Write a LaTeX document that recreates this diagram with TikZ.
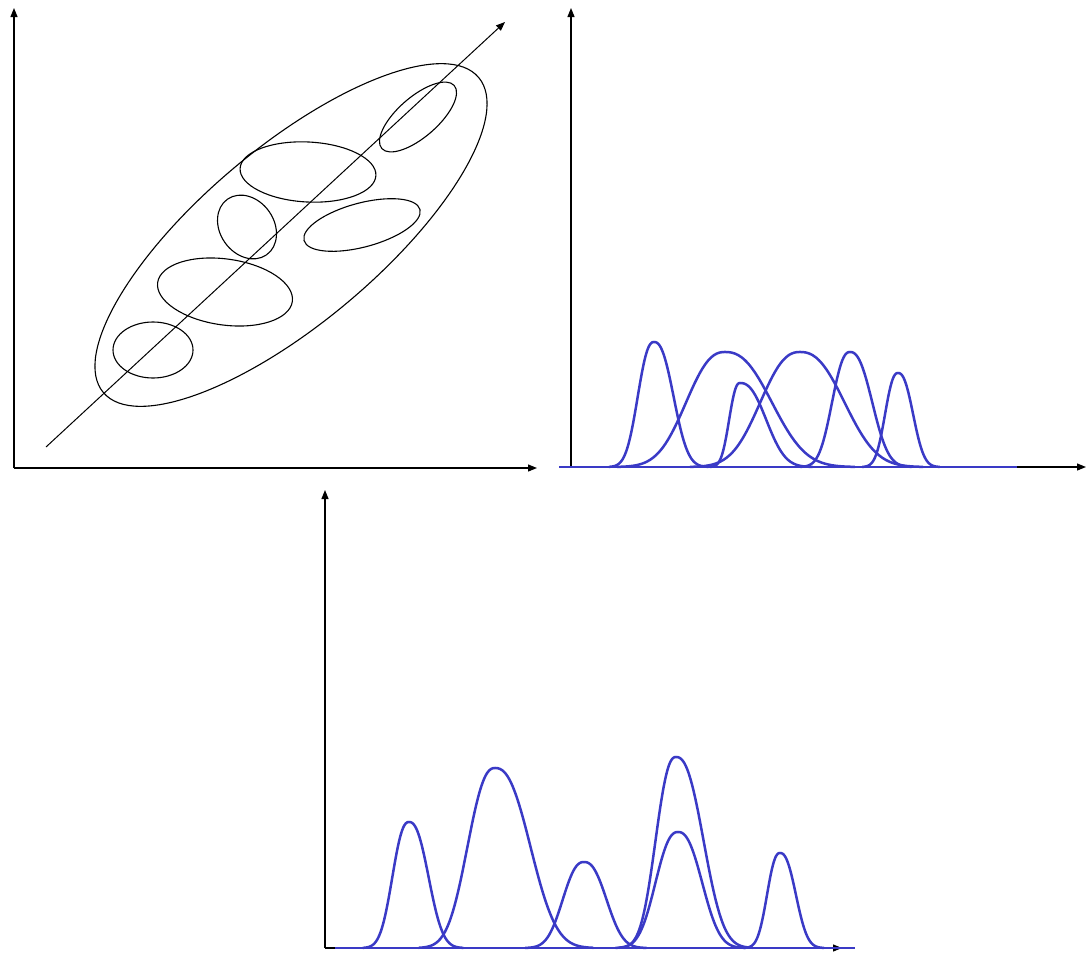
\documentclass[tikz,border=0pt]{standalone}
\usepackage{tikz}
\usetikzlibrary{arrows.meta}
\definecolor{peakblue}{RGB}{58,58,198}
\tikzset{
  axis/.style={line width=1.2pt, -{Triangle[length=9pt,width=7pt]}},
  blob/.style={line width=1.1pt},
  curve/.style={line width=2.5pt, peakblue, line join=round},
  bluebase/.style={line width=2.5pt, peakblue}
}
% one peak: centre, height, left spread, right spread, baseline y
\newcommand{\peak}[5]{%
  \pgfmathsetmacro\pkL{#1-2.2*#3}%
  \pgfmathsetmacro\pkR{#1+2.2*#4}%
  \draw[curve] plot[domain=\pkL:#1, samples=40, smooth] (\x,{#5-#2*exp(-(abs((\x-#1)/#3)+0.0001)^2.4)})
    -- plot[domain=#1:\pkR, samples=40, smooth] (\x,{#5-#2*exp(-(abs((\x-#1)/#4)+0.0001)^2.4)});}

\begin{document}
\begin{tikzpicture}[x=1pt, y=-1pt]
  \useasboundingbox (0,0) rectangle (1087,956);

  % scatter of clusters
  \coordinate (o1) at (14,468);
  \coordinate (ytop1) at (14,8);
  \coordinate (xend1) at (537,468);
  \coordinate (dstart) at (46,447);
  \coordinate (dend) at (505,22);
  \draw[axis] (o1) -- (ytop1);
  \draw[axis] (o1) -- (xend1);
  \draw[axis, line width=1pt] (dstart) -- (dend);
  \draw[blob] (291,235) ellipse [x radius=245pt, y radius=88pt, rotate=40];
  \draw[blob] (153,350) ellipse [x radius=40pt, y radius=28pt];
  \draw[blob] (225,292) ellipse [x radius=68pt, y radius=33pt, rotate=-8];
  \draw[blob] (247,227) ellipse [x radius=34pt, y radius=27pt, rotate=-55];
  \draw[blob] (308,172) ellipse [x radius=68pt, y radius=30pt, rotate=-3];
  \draw[blob] (362,225) ellipse [x radius=60pt, y radius=22pt, rotate=15];
  \draw[blob] (418,117) ellipse [x radius=48pt, y radius=20pt, rotate=41];

  % projection on the x axis
  \coordinate (o2) at (571,467);
  \coordinate (ytop2) at (571,8);
  \coordinate (xend2) at (1086,467);
  \draw[axis] (o2) -- (ytop2);
  \draw[axis] (o2) -- (xend2);
  \draw[bluebase] (559,467) -- (1017,467);
  \peak{654}{125}{20.5}{24.7}{467}
  \peak{725}{115}{49}{59}{467}
  \peak{740}{84}{13.7}{33}{467}
  \peak{800}{115}{50}{56}{467}
  \peak{850}{115}{22.6}{28}{467}
  \peak{898}{94}{16.3}{19}{467}

  % projection on the principal axis
  \coordinate (o3) at (325,948);
  \coordinate (ytop3) at (325,490);
  \coordinate (xend3) at (842,948);
  \draw[axis] (o3) -- (ytop3);
  \draw[axis] (o3) -- (xend3);
  \draw[bluebase] (335,948) -- (855,948);
  \peak{409}{126}{21}{24.7}{948}
  \peak{495}{180}{34.7}{44.7}{948}
  \peak{584}{86}{26.8}{28.4}{948}
  \peak{676}{191}{25.8}{34.7}{948}
  \peak{678}{116}{28.4}{30.5}{948}
  \peak{780}{95}{16.3}{20}{948}
\end{tikzpicture}
\end{document}
